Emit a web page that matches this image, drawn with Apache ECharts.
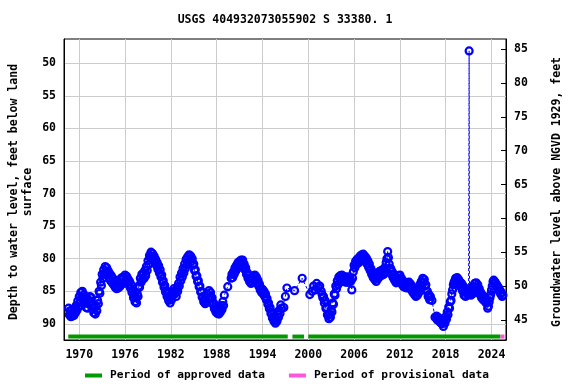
<!DOCTYPE html>
<html>
<head>
<meta charset="utf-8">
<script src="https://cdn.jsdelivr.net/npm/echarts@6/dist/echarts.min.js"></script>
<style>html,body{margin:0;padding:0;background:#fff}#c{width:576px;height:384px}</style>
</head>
<body>
<div id="c"></div>
<script>
const chartTitle = 'USGS 404932073055902 S 33380. 1';
const leftAxisTitle = 'Depth to water level, feet below land\nsurface';
const rightAxisTitle = 'Groundwater level above NGVD 1929, feet';
const xTickYears = [1970, 1976, 1982, 1988, 1994, 2000, 2006, 2012, 2018, 2024];
const depthTicks = [50, 55, 60, 65, 70, 75, 80, 85, 90];
const elevTicks = [45, 50, 55, 60, 65, 70, 75, 80, 85];

// [decimal year, depth to water (ft below land surface)]
const observations = [
[1968.6,87.6],[1968.7,88.6],[1968.8,88.0],[1968.9,88.9],[1969.0,87.9],[1969.1,88.8],[1969.2,88.2],[1969.3,88.7],[1969.4,87.6],[1969.5,88.3],
[1969.6,87.2],[1969.7,87.9],[1969.8,86.5],[1969.9,87.4],[1970.0,85.8],[1970.1,86.7],[1970.2,85.2],[1970.3,86.0],[1970.4,85.0],[1970.5,86.1],
[1970.6,85.5],[1970.7,86.8],[1970.8,86.0],[1970.9,87.5],[1971.0,86.6],[1971.1,87.6],[1971.2,86.3],[1971.3,87.0],[1971.4,85.8],[1971.5,86.6],
[1971.6,86.0],[1971.7,87.2],[1971.8,87.0],[1971.9,88.3],[1972.0,87.6],[1972.1,88.5],[1972.2,87.3],[1972.3,88.0],[1972.4,86.4],[1972.5,86.9],
[1972.6,85.0],[1972.7,85.3],[1972.8,83.6],[1972.9,84.1],[1973.0,82.4],[1973.1,83.0],[1973.2,81.7],[1973.3,82.4],[1973.4,81.2],[1973.5,82.0],
[1973.6,81.4],[1973.7,82.4],[1973.8,81.9],[1973.9,83.0],[1974.0,82.3],[1974.1,83.4],[1974.2,82.6],[1974.3,83.7],[1974.4,83.0],[1974.5,84.0],
[1974.6,83.4],[1974.7,84.4],[1974.8,83.6],[1974.9,84.6],[1975.0,83.4],[1975.1,84.5],[1975.2,83.6],[1975.3,84.3],[1975.4,83.1],[1975.5,84.0],
[1975.6,82.9],[1975.7,83.8],[1975.8,82.9],[1975.9,83.6],[1976.0,82.5],[1976.1,83.4],[1976.2,82.7],[1976.3,83.6],[1976.4,83.1],[1976.5,84.0],
[1976.6,83.5],[1976.7,84.5],[1976.8,84.0],[1976.9,85.2],[1977.0,84.8],[1977.1,86.0],[1977.2,85.5],[1977.3,86.6],[1977.4,86.0],[1977.5,86.8],
[1977.6,85.4],[1977.7,85.8],[1977.8,84.2],[1977.9,84.4],[1978.0,83.0],[1978.1,83.6],[1978.2,82.4],[1978.3,83.2],[1978.4,82.2],[1978.5,83.0],
[1978.6,81.8],[1978.7,82.6],[1978.8,81.2],[1978.9,81.8],[1979.0,80.3],[1979.1,80.9],[1979.2,79.5],[1979.3,79.9],[1979.4,79.0],[1979.5,79.6],
[1979.6,79.2],[1979.7,80.0],[1979.8,79.6],[1979.9,80.5],[1980.0,80.1],[1980.1,81.0],[1980.2,80.6],[1980.3,81.6],[1980.4,81.1],[1980.5,82.2],
[1980.6,81.7],[1980.7,82.8],[1980.8,82.5],[1980.9,83.6],[1981.0,83.4],[1981.1,84.4],[1981.2,84.1],[1981.3,85.1],[1981.4,84.9],[1981.5,85.8],
[1981.6,85.4],[1981.7,86.4],[1981.8,86.0],[1981.9,86.8],[1982.0,85.8],[1982.1,86.3],[1982.2,85.0],[1982.3,85.6],[1982.4,84.6],[1982.5,85.4],
[1982.6,85.0],[1982.7,85.8],[1982.8,84.6],[1982.9,85.0],[1983.0,83.8],[1983.1,84.2],[1983.2,82.8],[1983.3,83.4],[1983.4,82.2],[1983.5,82.8],
[1983.6,81.5],[1983.7,82.2],[1983.8,80.8],[1983.9,81.5],[1984.0,80.1],[1984.1,80.9],[1984.2,79.7],[1984.3,80.4],[1984.4,79.4],[1984.5,80.1],
[1984.6,79.6],[1984.7,80.4],[1984.8,80.0],[1984.9,81.0],[1985.0,80.8],[1985.1,81.8],[1985.2,81.7],[1985.3,82.7],[1985.4,82.6],[1985.5,83.5],
[1985.6,83.4],[1985.7,84.3],[1985.8,84.2],[1985.9,85.1],[1986.0,85.0],[1986.1,85.9],[1986.2,85.8],[1986.3,86.6],[1986.4,86.2],[1986.5,86.9],
[1986.6,86.0],[1986.7,86.6],[1986.8,85.4],[1986.9,86.1],[1987.0,84.9],[1987.1,85.8],[1987.2,85.2],[1987.3,86.2],[1987.4,86.0],[1987.5,87.0],
[1987.6,86.8],[1987.7,87.7],[1987.8,87.4],[1987.9,88.2],[1988.0,87.7],[1988.1,88.4],[1988.2,87.9],[1988.3,88.5],[1988.4,87.6],[1988.5,88.2],
[1988.6,87.2],[1988.7,87.8],[1988.8,86.6],[1988.9,87.2],[1989.0,85.6],[1989.45,84.3],[1989.9,83.0],[1990.0,82.4],[1990.1,82.9],[1990.2,82.0],
[1990.3,82.4],[1990.4,81.4],[1990.5,81.9],[1990.6,81.0],[1990.7,81.5],[1990.8,80.6],[1990.9,81.2],[1991.0,80.4],[1991.1,81.0],[1991.2,80.2],
[1991.3,80.8],[1991.4,80.2],[1991.5,81.0],[1991.6,80.8],[1991.7,81.7],[1991.8,81.4],[1991.9,82.4],[1992.0,82.1],[1992.1,83.0],[1992.2,82.6],
[1992.3,83.5],[1992.4,83.0],[1992.5,83.8],[1992.6,82.8],[1992.7,83.6],[1992.8,82.6],[1992.9,83.3],[1993.0,82.5],[1993.1,83.3],[1993.2,82.8],
[1993.3,83.7],[1993.4,83.3],[1993.5,84.2],[1993.6,83.9],[1993.7,84.8],[1993.8,84.5],[1993.9,85.2],[1994.0,84.7],[1994.1,85.4],[1994.2,85.0],
[1994.3,85.8],[1994.4,85.4],[1994.5,86.3],[1994.6,86.1],[1994.7,87.0],[1994.8,86.8],[1994.9,87.7],[1995.0,87.5],[1995.1,88.4],[1995.2,88.2],
[1995.3,89.1],[1995.4,88.9],[1995.5,89.6],[1995.6,89.4],[1995.7,89.9],[1995.8,89.2],[1995.9,89.6],[1996.0,88.5],[1996.1,89.0],[1996.2,87.9],
[1996.3,88.4],[1996.4,87.1],[1996.5,87.6],[1996.8,87.5],[1997.0,85.8],[1997.2,84.5],[1998.2,84.9],[1999.2,83.0],[2000.2,85.5],[2000.5,85.0],
[2000.7,84.2],[2000.9,84.8],[2001.1,83.8],[2001.3,84.4],[2001.5,84.2],[2001.7,85.0],[2001.8,85.5],[2001.9,86.0],[2002.0,85.8],[2002.1,86.8],
[2002.2,86.4],[2002.3,87.6],[2002.4,87.5],[2002.5,88.6],[2002.6,88.7],[2002.7,89.2],[2002.8,88.5],[2002.9,89.0],[2003.0,87.8],[2003.1,88.2],
[2003.2,86.8],[2003.3,87.0],[2003.4,85.4],[2003.5,85.6],[2003.6,84.2],[2003.7,84.6],[2003.8,83.4],[2003.9,84.0],[2004.0,82.8],[2004.1,83.6],
[2004.2,82.6],[2004.3,83.4],[2004.4,82.5],[2004.5,83.3],[2004.6,82.7],[2004.7,83.5],[2004.8,82.9],[2004.9,83.6],[2005.0,82.8],[2005.1,83.6],
[2005.2,82.9],[2005.3,83.6],[2005.4,82.8],[2005.5,83.5],[2005.6,83.4],[2005.7,84.8],[2005.8,83.0],[2005.9,82.0],[2006.0,81.0],[2006.1,81.4],
[2006.2,80.4],[2006.3,80.9],[2006.4,80.1],[2006.5,80.7],[2006.6,79.9],[2006.7,80.5],[2006.8,79.6],[2006.9,80.3],[2007.0,79.4],[2007.1,80.0],
[2007.2,79.3],[2007.3,80.0],[2007.4,79.6],[2007.5,80.4],[2007.6,79.9],[2007.7,80.8],[2007.8,80.3],[2007.9,81.3],[2008.0,80.8],[2008.1,81.8],
[2008.2,81.5],[2008.3,82.4],[2008.4,82.0],[2008.5,82.9],[2008.6,82.3],[2008.7,83.2],[2008.8,82.6],[2008.9,83.5],[2009.0,82.4],[2009.1,83.1],
[2009.2,82.1],[2009.3,82.8],[2009.4,81.9],[2009.5,82.6],[2009.6,81.8],[2009.7,82.5],[2009.8,81.8],[2009.9,82.4],[2010.0,81.4],[2010.1,82.0],
[2010.2,80.6],[2010.3,80.0],[2010.4,78.9],[2010.5,79.8],[2010.6,80.8],[2010.7,81.6],[2010.8,81.5],[2010.9,82.4],[2011.0,82.0],[2011.1,82.9],
[2011.2,82.4],[2011.3,83.3],[2011.4,82.8],[2011.5,83.7],[2011.6,82.9],[2011.7,83.5],[2011.8,82.6],[2011.9,83.2],[2012.0,82.5],[2012.1,83.4],
[2012.2,83.0],[2012.3,84.0],[2012.4,83.4],[2012.5,84.3],[2012.6,83.6],[2012.7,84.4],[2012.8,83.7],[2012.9,84.5],[2013.0,83.7],[2013.1,84.4],
[2013.2,83.6],[2013.3,84.5],[2013.4,83.9],[2013.5,84.8],[2013.6,84.3],[2013.7,85.2],[2013.8,84.6],[2013.9,85.5],[2014.0,84.9],[2014.1,85.8],
[2014.2,85.0],[2014.3,85.6],[2014.4,84.5],[2014.5,85.2],[2014.6,84.0],[2014.7,84.6],[2014.8,83.5],[2014.9,84.0],[2015.0,83.0],[2015.1,83.6],
[2015.2,83.2],[2015.3,84.2],[2015.4,84.0],[2015.5,85.0],[2015.6,85.0],[2015.7,85.8],[2015.8,85.5],[2015.9,86.3],[2016.0,85.8],[2016.2,86.4],
[2016.6,89.0],[2016.8,88.8],[2016.9,89.4],[2017.0,89.0],[2017.1,89.5],[2017.2,89.2],[2017.3,89.8],[2017.4,89.4],[2017.5,90.0],[2017.6,89.8],
[2017.7,90.4],[2017.8,89.7],[2017.9,89.9],[2018.0,88.9],[2018.1,89.3],[2018.2,88.2],[2018.3,88.6],[2018.4,87.4],[2018.5,87.6],[2018.6,86.6],
[2018.7,86.4],[2018.8,85.4],[2018.9,84.8],[2019.0,84.0],[2019.1,83.6],[2019.2,83.4],[2019.3,83.0],[2019.4,83.4],[2019.5,82.9],[2019.6,83.6],
[2019.7,83.2],[2019.8,84.0],[2019.9,83.6],[2020.0,84.4],[2020.1,83.8],[2020.2,84.9],[2020.3,84.2],[2020.4,85.6],[2020.5,85.0],[2020.6,85.8],
[2020.7,84.6],[2020.8,85.4],[2020.9,84.8],[2021.0,85.2],[2021.07,48.1],[2021.12,85.4],[2021.2,84.8],[2021.3,85.6],[2021.4,84.6],[2021.5,85.4],
[2021.6,84.2],[2021.7,84.9],[2021.8,83.8],[2021.9,84.6],[2022.0,83.7],[2022.1,84.4],[2022.2,84.0],[2022.3,84.9],[2022.4,84.6],[2022.5,85.5],
[2022.6,85.2],[2022.7,86.0],[2022.8,85.6],[2022.9,86.3],[2023.0,85.8],[2023.1,86.5],[2023.2,86.0],[2023.3,86.8],[2023.4,86.6],[2023.5,87.6],
[2023.6,87.3],[2023.7,86.6],[2023.8,86.0],[2023.9,85.5],[2024.0,84.8],[2024.1,84.2],[2024.2,83.5],[2024.3,83.3],[2024.4,83.8],[2024.5,83.6],
[2024.6,84.2],[2024.7,84.0],[2024.8,84.6],[2024.9,84.4],[2025.0,85.0],[2025.1,84.8],[2025.2,85.4],[2025.3,85.2],[2025.4,85.8],[2025.5,85.6]
];

const approvedPeriods = [[1968.56, 1997.31], [1997.92, 1999.45], [2000.0, 2025.17]];
const provisionalPeriods = [[2025.17, 2025.7]];
const periodBarDepth = 91.95;

const FONT = 'DejaVu Sans Mono';

const series = [{
  name: 'obs', type: 'line', data: observations, xAxisIndex: 0, yAxisIndex: 0,
  symbol: 'circle', symbolSize: 7, showAllSymbol: true, silent: true,
  lineStyle: { color: '#0000ff', width: 1, type: [3, 2] },
  itemStyle: { color: 'rgba(0,0,0,0)', borderColor: '#0000ff', borderWidth: 2.2 },
  z: 3
}];
approvedPeriods.forEach(p => series.push({
  name: 'Period of approved data', type: 'line', symbol: 'none', silent: true,
  data: [[p[0], periodBarDepth], [p[1], periodBarDepth]],
  lineStyle: { color: '#009900', width: 4 }, itemStyle: { color: '#009900' }, z: 2
}));
provisionalPeriods.forEach(p => series.push({
  name: 'Period of provisional data', type: 'line', symbol: 'none', silent: true,
  data: [[p[0], periodBarDepth], [p[1], periodBarDepth]],
  lineStyle: { color: '#ff55dd', width: 4 }, itemStyle: { color: '#ff55dd' }, z: 2
}));

const chart = echarts.init(document.getElementById('c'), null, { renderer: 'canvas' });
chart.setOption({
  animation: false,
  backgroundColor: '#ffffff',
  textStyle: { fontFamily: FONT, fontWeight: 'bold', fontSize: 11.5, color: '#000' },
  grid: { left: 64, right: 70, top: 39, bottom: 44, show: true, borderColor: '#000', borderWidth: 1, containLabel: false },
  legend: {
    data: ['Period of approved data', 'Period of provisional data'],
    left: 80, top: 365, icon: 'rect', itemWidth: 17, itemHeight: 4, itemGap: 24,
    textStyle: { fontFamily: FONT, fontWeight: 'bold', fontSize: 11.2, color: '#000', padding: [0, 0, 0, 3] }
  },
  xAxis: {
    type: 'value', min: 1968.0, max: 2025.9,
    axisLine: { show: true, lineStyle: { color: '#000', width: 1 } },
    axisTick: { show: false, customValues: xTickYears },
    axisLabel: { customValues: xTickYears, formatter: v => String(Math.round(v)), fontFamily: FONT, fontWeight: 'bold', fontSize: 11.5, color: '#000', margin: 9 },
    splitLine: { show: true, lineStyle: { color: '#cccccc', width: 1 } }
  },
  yAxis: [{
    type: 'value', inverse: true, min: 46.27, max: 92.48, position: 'left',
    axisLine: { show: true, lineStyle: { color: '#000', width: 1 } },
    axisTick: { show: false, customValues: depthTicks },
    axisLabel: { customValues: depthTicks, formatter: v => String(Math.round(v)), fontFamily: FONT, fontWeight: 'bold', fontSize: 11.5, color: '#000', margin: 8 },
    splitLine: { show: true, lineStyle: { color: '#cccccc', width: 1 } }
  }, {
    type: 'value', min: 42.05, max: 86.48, position: 'right',
    axisLine: { show: true, lineStyle: { color: '#000', width: 1 } },
    axisTick: { show: true, inside: true, length: 5, customValues: elevTicks, lineStyle: { color: '#000' } },
    axisLabel: { customValues: elevTicks, formatter: v => String(Math.round(v)), fontFamily: FONT, fontWeight: 'bold', fontSize: 11.5, color: '#000', margin: 8 },
    splitLine: { show: false }
  }],
  graphic: [
    { type: 'text', x: 285, y: 20, style: { text: chartTitle, font: 'bold 11.5px "DejaVu Sans Mono"', fill: '#000', align: 'center', verticalAlign: 'middle' } },
    { type: 'text', x: 21, y: 192, rotation: Math.PI / 2, style: { text: leftAxisTitle, font: 'bold 11.5px "DejaVu Sans Mono"', fill: '#000', align: 'center', verticalAlign: 'middle', lineHeight: 14 } },
    { type: 'text', x: 557, y: 192, rotation: Math.PI / 2, style: { text: rightAxisTitle, font: 'bold 11.5px "DejaVu Sans Mono"', fill: '#000', align: 'center', verticalAlign: 'middle' } }
  ],
  series: series
});
</script>
</body>
</html>
